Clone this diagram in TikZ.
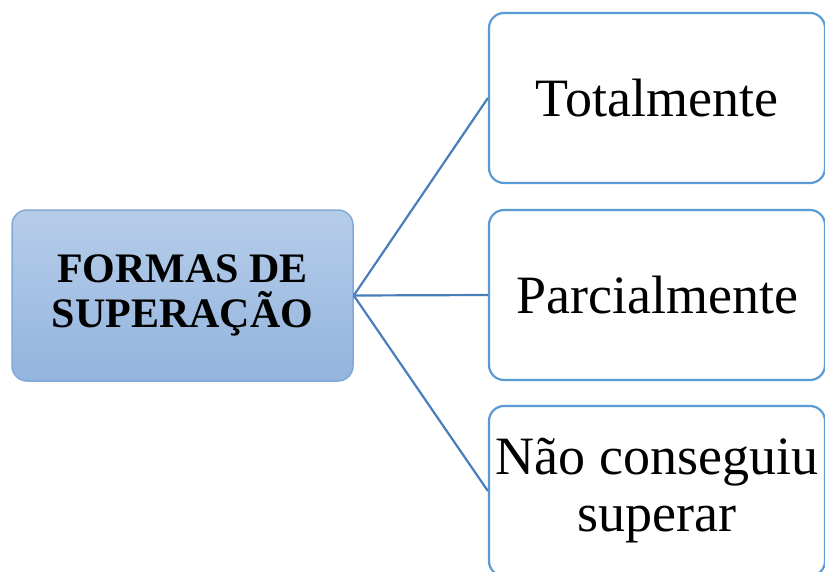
\documentclass[tikz,border=0pt]{standalone}
\usepackage{fontspec}
\setmainfont{Liberation Serif}
\definecolor{boxline}{HTML}{5B9BD5}
\definecolor{connline}{HTML}{4A7EBB}
\definecolor{topblue}{HTML}{B6CDE9}
\definecolor{botblue}{HTML}{93B4DE}
\definecolor{mainline}{HTML}{82A9DA}
\begin{document}
\begin{tikzpicture}[x=1pt,y=-1pt,
  mainbox/.style={draw=mainline, line width=1.5pt, rounded corners=15pt,
    top color=topblue, bottom color=botblue, minimum width=341pt, minimum height=171pt,
    inner sep=0pt, align=center, font=\fontsize{42}{45}\selectfont\bfseries},
  leafbox/.style={draw=boxline, line width=2.2pt, rounded corners=15pt, fill=white,
    minimum width=336pt, minimum height=170pt, inner sep=0pt, align=center,
    font=\fontsize{54}{57}\selectfont},
  conn/.style={draw=connline, line width=2.2pt}]
\useasboundingbox (0,0) rectangle (825,571);
\node[mainbox] (L) at (182.5,295.5) {FORMAS DE\\SUPERAÇÃO};
\node[leafbox] (T1) at (657,98) {Totalmente};
\node[leafbox] (T2) at (657,295) {Parcialmente};
\node[leafbox] (T3) at (657,491) {Não conseguiu\\superar};
\draw[conn] (L.east) -- (T1.west);
\draw[conn] (L.east) -- (T2.west);
\draw[conn] (L.east) -- (T3.west);
\end{tikzpicture}
\end{document}
